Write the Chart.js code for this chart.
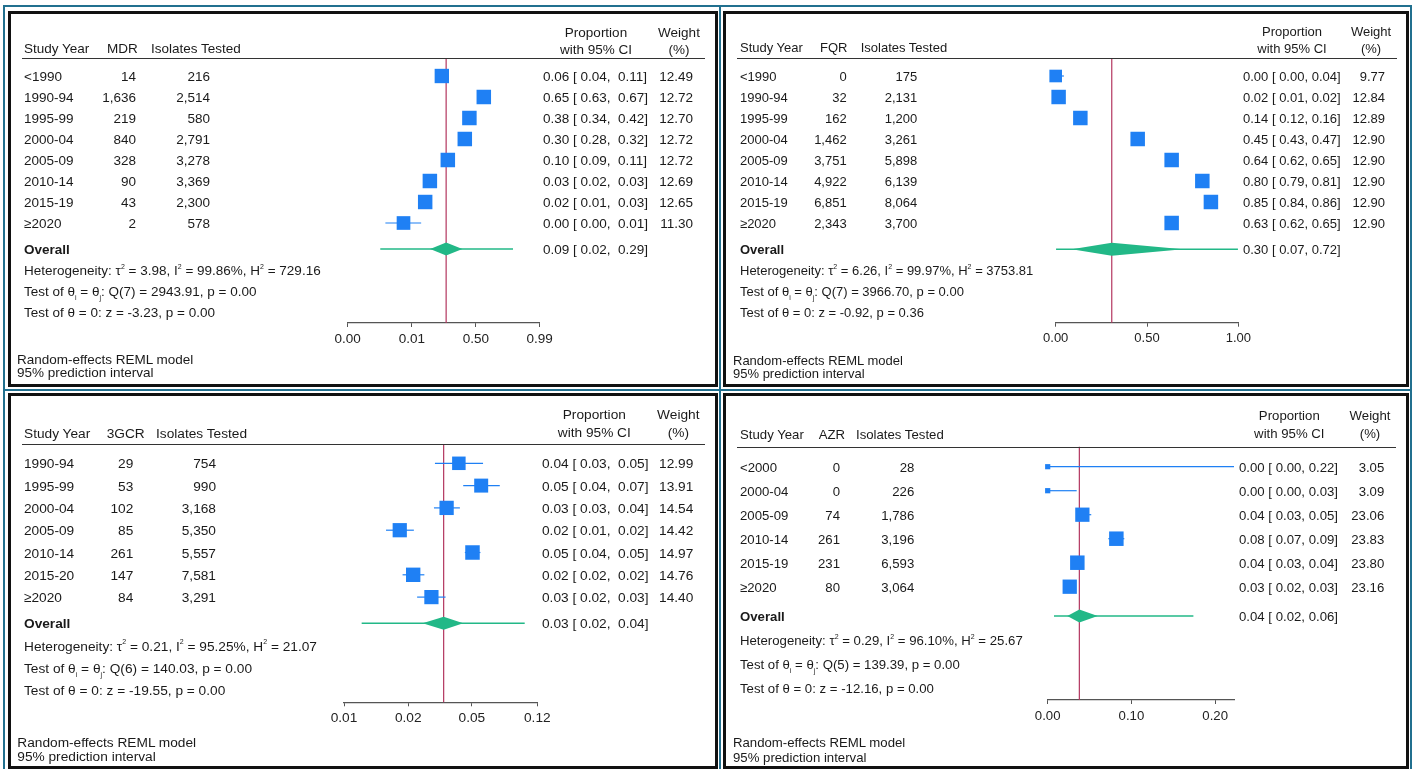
<!DOCTYPE html>
<html>
<head>
<meta charset="utf-8">
<script src="https://cdn.jsdelivr.net/npm/chart.js@4.4.1/dist/chart.umd.min.js"></script>
<style>
  body { margin: 0; width: 1412px; height: 769px; position: relative; overflow: hidden; background: #fff;
         font-family: "Liberation Sans", Arial, sans-serif; color: #1a1a1a; }
  .frame { position: absolute; background: #21708f; }
  .panel { position: absolute; background: #fff; }
  .panel .edge { position: absolute; left: 0; top: 0; right: 0; bottom: 0; box-shadow: inset 0 0 0 3px #111; pointer-events: none; }
  .panel canvas { position: absolute; left: 0; top: 0; }
  .t { position: absolute; white-space: pre; line-height: 15px; transform: translateY(-50%); }
  .t.r { transform: translate(-100%, -50%); }
  .t.c { transform: translate(-50%, -50%); }
  .rule { position: absolute; height: 1px; background: #333; }
  sup { font-size: 7px; position: relative; top: -1px; vertical-align: super; line-height: 0; }
  sub { font-size: 7px; position: relative; vertical-align: sub; line-height: 0; }
</style>
</head>
<body>
<script>
// ---- MDR ----
const mdrYears = ["<1990", "1990-94", "1995-99", "2000-04", "2005-09", "2010-14", "2015-19", "≥2020"];
const mdrCases = ["14", "1,636", "219", "840", "328", "90", "43", "2"];
const mdrTested = ["216", "2,514", "580", "2,791", "3,278", "3,369", "2,300", "578"];
const mdrProp = [0.080, 0.640, 0.387, 0.312, 0.118, 0.0355, 0.0256, 0.0055];
const mdrLow = [0.062, 0.620, 0.350, 0.290, 0.108, 0.031, 0.021, 0.0015];
const mdrHigh = [0.100, 0.660, 0.420, 0.335, 0.128, 0.040, 0.031, 0.0193];
const mdrCI = ["0.06 [ 0.04,  0.11]", "0.65 [ 0.63,  0.67]", "0.38 [ 0.34,  0.42]", "0.30 [ 0.28,  0.32]",
               "0.10 [ 0.09,  0.11]", "0.03 [ 0.02,  0.03]", "0.02 [ 0.01,  0.03]", "0.00 [ 0.00,  0.01]"];
const mdrWeight = ["12.49", "12.72", "12.70", "12.72", "12.72", "12.69", "12.65", "11.30"];
const mdrPooled = [0.106, 0.0362, 0.2765];   // estimate, lower, upper
const mdrPredict = [0.00104, 0.9357];
const mdrPooledText = "0.09 [ 0.02,  0.29]";
const mdrStats = ["3.98", "99.86", "729.16", "7", "2943.91", "0.00", "-3.23", "0.00"];
const mdrTicks = [0.0001, 0.01, 0.5, 0.99];
const mdrTickLabels = ["0.00", "0.01", "0.50", "0.99"];
const mdrRange = [0.0001, 0.99];

// ---- FQR ----
const fqrYears = ["<1990", "1990-94", "1995-99", "2000-04", "2005-09", "2010-14", "2015-19", "≥2020"];
const fqrCases = ["0", "32", "162", "1,462", "3,751", "4,922", "6,851", "2,343"];
const fqrTested = ["175", "2,131", "1,200", "3,261", "5,898", "6,139", "8,064", "3,700"];
const fqrProp = [0.0, 0.016, 0.135, 0.449, 0.635, 0.803, 0.850, 0.635];
const fqrLow = [0.0, 0.01, 0.12, 0.43, 0.62, 0.79, 0.84, 0.62];
const fqrHigh = [0.045, 0.02, 0.16, 0.47, 0.65, 0.81, 0.86, 0.65];
const fqrCI = ["0.00 [ 0.00, 0.04]", "0.02 [ 0.01, 0.02]", "0.14 [ 0.12, 0.16]", "0.45 [ 0.43, 0.47]",
               "0.64 [ 0.62, 0.65]", "0.80 [ 0.79, 0.81]", "0.85 [ 0.84, 0.86]", "0.63 [ 0.62, 0.65]"];
const fqrWeight = ["9.77", "12.84", "12.89", "12.90", "12.90", "12.90", "12.90", "12.90"];
const fqrPooled = [0.307, 0.088, 0.697];
const fqrPredict = [0.002, 0.998];
const fqrPooledText = "0.30 [ 0.07, 0.72]";
const fqrStats = ["6.26", "99.97", "3753.81", "7", "3966.70", "0.00", "-0.92", "0.36"];
const fqrTicks = [0, 0.5, 1];
const fqrTickLabels = ["0.00", "0.50", "1.00"];
const fqrRange = [0, 1];

// ---- 3GCR ----
const gcrYears = ["1990-94", "1995-99", "2000-04", "2005-09", "2010-14", "2015-20", "≥2020"];
const gcrCases = ["29", "53", "102", "85", "261", "147", "84"];
const gcrTested = ["754", "990", "3,168", "5,350", "5,557", "7,581", "3,291"];
const gcrProp = [0.0387, 0.0539, 0.0322, 0.0158, 0.0474, 0.0194, 0.0256];
const gcrLow = [0.0270, 0.0413, 0.0266, 0.0128, 0.0423, 0.0165, 0.0206];
const gcrHigh = [0.0554, 0.0707, 0.0393, 0.0196, 0.0533, 0.0230, 0.0317];
const gcrCI = ["0.04 [ 0.03,  0.05]", "0.05 [ 0.04,  0.07]", "0.03 [ 0.03,  0.04]", "0.02 [ 0.01,  0.02]",
               "0.05 [ 0.04,  0.05]", "0.02 [ 0.02,  0.02]", "0.03 [ 0.02,  0.03]"];
const gcrWeight = ["12.99", "13.91", "14.54", "14.42", "14.97", "14.76", "14.40"];
const gcrPooled = [0.0308, 0.0224, 0.0413];
const gcrPredict = [0.0088, 0.1008];
const gcrPooledText = "0.03 [ 0.02,  0.04]";
const gcrStats = ["0.21", "95.25", "21.07", "6", "140.03", "0.00", "-19.55", "0.00"];
const gcrTicks = [0.0067, 0.018, 0.047, 0.12];
const gcrTickLabels = ["0.01", "0.02", "0.05", "0.12"];
const gcrRange = [0.0067, 0.12];

// ---- AZR ----
const azrYears = ["<2000", "2000-04", "2005-09", "2010-14", "2015-19", "≥2020"];
const azrCases = ["0", "0", "74", "261", "231", "80"];
const azrTested = ["28", "226", "1,786", "3,196", "6,593", "3,064"];
const azrProp = [0.0, 0.0, 0.0414, 0.082, 0.0354, 0.0263];
const azrLow = [0.0, 0.0, 0.034, 0.0724, 0.030, 0.021];
const azrHigh = [0.2225, 0.0346, 0.052, 0.0915, 0.040, 0.031];
const azrCI = ["0.00 [ 0.00, 0.22]", "0.00 [ 0.00, 0.03]", "0.04 [ 0.03, 0.05]",
               "0.08 [ 0.07, 0.09]", "0.04 [ 0.03, 0.04]", "0.03 [ 0.02, 0.03]"];
const azrWeight = ["3.05", "3.09", "23.06", "23.83", "23.80", "23.16"];
const azrPooled = [0.0378, 0.0234, 0.0597];
const azrPredict = [0.0075, 0.174];
const azrPooledText = "0.04 [ 0.02, 0.06]";
const azrStats = ["0.29", "96.10", "25.67", "5", "139.39", "0.00", "-12.16", "0.00"];
const azrTicks = [0, 0.1, 0.2];
const azrTickLabels = ["0.00", "0.10", "0.20"];
const azrRange = [0, 0.2225];

const BLUE = "#1f80f4";
const GREEN = "#22b887";
const RED = "#b3365f";
const AXIS = "#555";
const FONT = '"Liberation Sans", Arial, sans-serif';

const logit = (p) => Math.log(p / (1 - p));
const ident = (p) => p;

// frame lines
[[3, 5, 2, 764], [719, 5, 2, 764], [1410, 5, 2, 764], [3, 5, 1409, 2], [3, 389, 1409, 2]].forEach(
  ([l, t, w, h]) => {
    const d = document.createElement("div");
    d.className = "frame";
    Object.assign(d.style, { left: l + "px", top: t + "px", width: w + "px", height: h + "px" });
    document.body.appendChild(d);
  }
);

// draws CI whiskers, pooled diamond, prediction interval and the pooled line
const forestPlugin = {
  id: "forest",
  beforeDatasetsDraw(chart, args, opts) {
    const { ctx, chartArea, scales } = chart;
    const x = scales.x, y = scales.y, tf = opts.tf;
    ctx.save();
    const ox = x.getPixelForValue(tf(opts.pooled[0]));
    ctx.strokeStyle = RED;
    ctx.lineWidth = 1.2;
    ctx.beginPath();
    ctx.moveTo(ox, chartArea.top);
    ctx.lineTo(ox, chartArea.bottom);
    ctx.stroke();

    const oy = y.getPixelForValue(opts.overallRow);
    ctx.strokeStyle = GREEN;
    ctx.lineWidth = 1.4;
    ctx.beginPath();
    ctx.moveTo(x.getPixelForValue(tf(opts.predict[0])), oy);
    ctx.lineTo(x.getPixelForValue(tf(opts.predict[1])), oy);
    ctx.stroke();

    ctx.fillStyle = GREEN;
    ctx.beginPath();
    ctx.moveTo(x.getPixelForValue(tf(opts.pooled[1])), oy);
    ctx.lineTo(ox, oy - 6.5);
    ctx.lineTo(x.getPixelForValue(tf(opts.pooled[2])), oy);
    ctx.lineTo(ox, oy + 6.5);
    ctx.closePath();
    ctx.fill();

    ctx.strokeStyle = BLUE;
    ctx.lineWidth = 1.2;
    opts.low.forEach((lo, i) => {
      const py = y.getPixelForValue(i);
      ctx.beginPath();
      ctx.moveTo(x.getPixelForValue(tf(Math.max(lo, 1e-9))), py);
      ctx.lineTo(x.getPixelForValue(tf(opts.high[i])), py);
      ctx.stroke();
    });
    ctx.restore();
  },
};

function buildPanel(cfg) {
  const L = cfg.lay;
  const el = document.createElement("div");
  el.className = "panel";
  Object.assign(el.style, {
    left: cfg.left + "px", top: cfg.top + "px", width: cfg.w + "px", height: cfg.h + "px",
    fontSize: cfg.font + "px",
  });
  document.body.appendChild(el);

  const cv = document.createElement("canvas");
  cv.width = cfg.w;
  cv.height = cfg.h;
  el.appendChild(cv);

  const put = (html, x, y, cls) => {
    const d = document.createElement("div");
    d.className = "t " + (cls || "");
    d.innerHTML = html;
    d.style.left = x + "px";
    d.style.top = y + "px";
    el.appendChild(d);
  };

  put("Study Year", L.yearX, L.headY);
  put(cfg.label, L.countHeadX, L.headY);
  put("Isolates Tested", L.testedHeadX, L.headY);
  put("Proportion", L.propC, L.propY1, "c");
  put("with 95% CI", L.propC, L.propY2, "c");
  put("Weight", L.weightC, L.propY1, "c");
  put("(%)", L.weightC, L.propY2, "c");

  const rule = document.createElement("div");
  rule.className = "rule";
  Object.assign(rule.style, { left: L.ruleX1 + "px", top: L.lineY + "px", width: L.ruleX2 - L.ruleX1 + "px" });
  el.appendChild(rule);

  cfg.years.forEach((yr, i) => {
    const yy = L.rowY + i * L.step;
    put(yr, L.yearX, yy);
    put(cfg.cases[i], L.countR, yy, "r");
    put(cfg.tested[i], L.testedR, yy, "r");
    put(cfg.ci[i], L.ciX, yy);
    put(cfg.weight[i], L.weightR, yy, "r");
  });

  const s = cfg.stats;
  put("<b>Overall</b>", L.yearX, L.overallY);
  put(cfg.pooledText, L.ciX, L.overallY);
  put(`Heterogeneity: τ<sup>2</sup> = ${s[0]}, I<sup>2</sup> = ${s[1]}%, H<sup>2</sup> = ${s[2]}`, L.yearX, L.overallY + L.step);
  put(`Test of θ<sub>i</sub> = θ<sub>j</sub>: Q(${s[3]}) = ${s[4]}, p = ${s[5]}`, L.yearX, L.overallY + 2 * L.step);
  put(`Test of θ = 0: z = ${s[6]}, p = ${s[7]}`, L.yearX, L.overallY + 3 * L.step);
  put("Random-effects REML model", L.footX, L.footY1);
  put("95% prediction interval", L.footX, L.footY2);

  const tf = cfg.logit ? logit : ident;
  const yOf = (py) => (py - L.rowY) / L.step;
  const weights = cfg.weight.map(Number);
  const wMax = Math.max(...weights);

  new Chart(cv, {
    type: "scatter",
    data: {
      datasets: [
        {
          data: cfg.prop.map((p, i) => ({ x: tf(Math.max(p, 1e-9)), y: i })),
          pointStyle: "rect",
          pointRadius: weights.map((w) => (14.5 * Math.sqrt(w / wMax)) / Math.SQRT2),
          backgroundColor: BLUE,
          borderWidth: 0,
          clip: false,
        },
      ],
    },
    options: {
      responsive: false,
      animation: false,
      events: [],
      layout: { padding: { left: L.plotL, right: cfg.w - L.plotR, top: L.lineY, bottom: cfg.h - L.axisY - 30 } },
      plugins: {
        legend: { display: false },
        tooltip: { enabled: false },
        forest: {
          tf: tf,
          low: cfg.low,
          high: cfg.high,
          pooled: cfg.pooled,
          predict: cfg.predict,
          overallRow: yOf(L.overallY),
        },
      },
      scales: {
        x: {
          type: "linear",
          min: tf(cfg.range[0]),
          max: tf(cfg.range[1]),
          afterBuildTicks: (sc) => {
            sc.ticks = cfg.ticks.map((t) => ({ value: tf(t) }));
          },
          afterFit: (sc) => {
            sc.height = 30;
          },
          ticks: {
            callback: (v, i) => cfg.tickLabels[i],
            autoSkip: false,
            maxRotation: 0,
            padding: 4,
            color: "#222",
            font: { family: FONT, size: cfg.font },
          },
          grid: { drawOnChartArea: false, drawTicks: true, tickLength: 4, color: AXIS, lineWidth: 1 },
          border: { display: true, color: AXIS, width: 1.2 },
        },
        y: { display: false, reverse: true, min: yOf(L.lineY), max: yOf(L.axisY) },
      },
    },
    plugins: [forestPlugin],
  });

  const edge = document.createElement("div");
  edge.className = "edge";
  el.appendChild(edge);
}

buildPanel({
  label: "MDR", left: 8, top: 11, w: 710, h: 376, font: 13.5, logit: true,
  years: mdrYears, cases: mdrCases, tested: mdrTested, prop: mdrProp, low: mdrLow, high: mdrHigh,
  ci: mdrCI, weight: mdrWeight, pooled: mdrPooled, predict: mdrPredict, pooledText: mdrPooledText,
  stats: mdrStats, ticks: mdrTicks, tickLabels: mdrTickLabels, range: mdrRange,
  lay: { yearX: 16, headY: 37, countHeadX: 99, testedHeadX: 143, countR: 128, testedR: 202,
         propC: 588, propY1: 21, propY2: 38, weightC: 671, lineY: 47, ruleX1: 14, ruleX2: 697,
         rowY: 65, step: 21, overallY: 238, plotL: 339.7, plotR: 531.7, axisY: 312,
         ciX: 535, weightR: 685, footX: 9, footY1: 348, footY2: 361 },
});

buildPanel({
  label: "FQR", left: 723, top: 11, w: 686, h: 376, font: 13, logit: false,
  years: fqrYears, cases: fqrCases, tested: fqrTested, prop: fqrProp, low: fqrLow, high: fqrHigh,
  ci: fqrCI, weight: fqrWeight, pooled: fqrPooled, predict: fqrPredict, pooledText: fqrPooledText,
  stats: fqrStats, ticks: fqrTicks, tickLabels: fqrTickLabels, range: fqrRange,
  lay: { yearX: 17, headY: 36, countHeadX: 97, testedHeadX: 137.7, countR: 123.7, testedR: 194.3,
         propC: 569, propY1: 20, propY2: 37, weightC: 648, lineY: 47, ruleX1: 14, ruleX2: 674,
         rowY: 65, step: 21, overallY: 238.3, plotL: 332.7, plotR: 515.3, axisY: 311.7,
         ciX: 520, weightR: 662, footX: 10, footY1: 349, footY2: 362 },
});

buildPanel({
  label: "3GCR", left: 8, top: 393, w: 710, h: 376, font: 13.7, logit: true,
  years: gcrYears, cases: gcrCases, tested: gcrTested, prop: gcrProp, low: gcrLow, high: gcrHigh,
  ci: gcrCI, weight: gcrWeight, pooled: gcrPooled, predict: gcrPredict, pooledText: gcrPooledText,
  stats: gcrStats, ticks: gcrTicks, tickLabels: gcrTickLabels, range: gcrRange,
  lay: { yearX: 16, headY: 40, countHeadX: 98.7, testedHeadX: 148, countR: 125.3, testedR: 208,
         propC: 586.3, propY1: 21.3, propY2: 39.3, weightC: 670.3, lineY: 51, ruleX1: 14, ruleX2: 697,
         rowY: 70.3, step: 22.3, overallY: 230.3, plotL: 336, plotR: 529.3, axisY: 309.3,
         ciX: 534, weightR: 685.3, footX: 9.3, footY1: 348.7, footY2: 363 },
});

buildPanel({
  label: "AZR", left: 723, top: 393, w: 686, h: 376, font: 13.2, logit: false,
  years: azrYears, cases: azrCases, tested: azrTested, prop: azrProp, low: azrLow, high: azrHigh,
  ci: azrCI, weight: azrWeight, pooled: azrPooled, predict: azrPredict, pooledText: azrPooledText,
  stats: azrStats, ticks: azrTicks, tickLabels: azrTickLabels, range: azrRange,
  lay: { yearX: 17, headY: 41, countHeadX: 95.7, testedHeadX: 133, countR: 117, testedR: 191.3,
         propC: 566.3, propY1: 22, propY2: 40.3, weightC: 647, lineY: 53.7, ruleX1: 14, ruleX2: 673,
         rowY: 73.7, step: 24, overallY: 223, plotL: 324.7, plotR: 511, axisY: 307,
         ciX: 516, weightR: 661.3, footX: 10, footY1: 349.3, footY2: 363.7 },
});
</script>
</body>
</html>
